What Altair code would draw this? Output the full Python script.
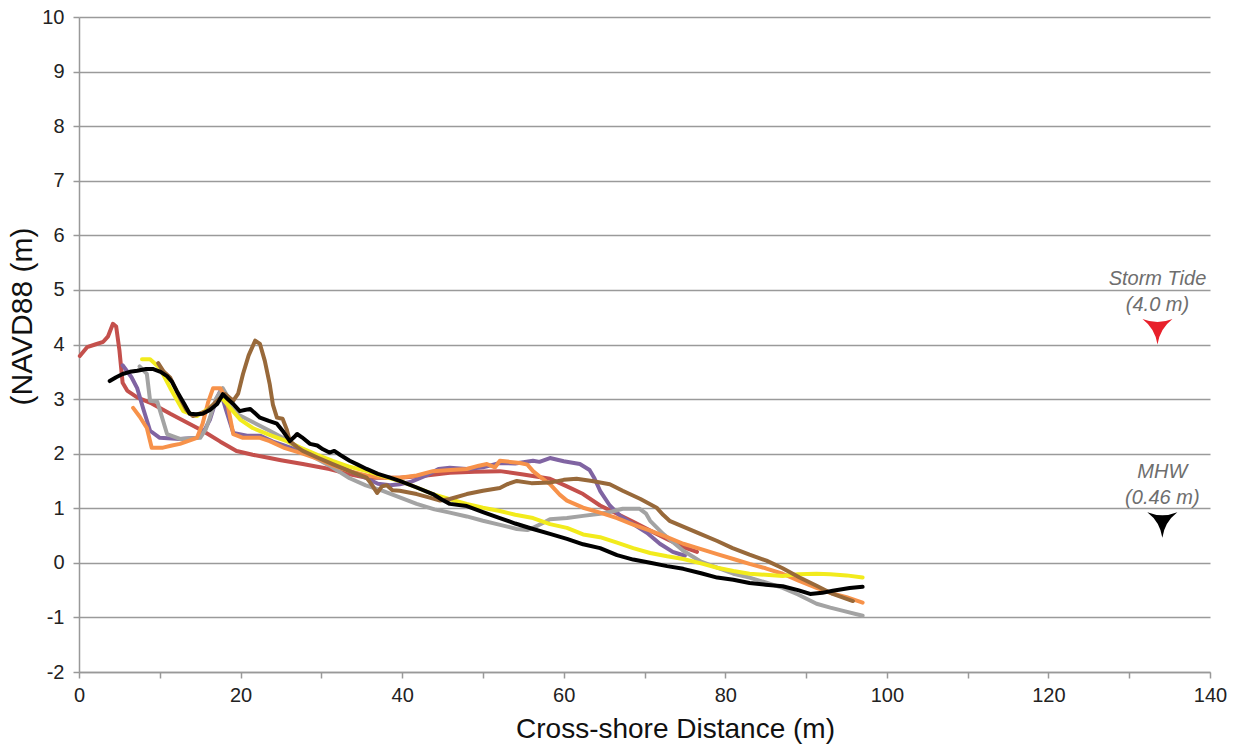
import altair as alt
import pandas as pd

# ---- data ----
red_x = [0.1, 1, 2, 3, 3.6, 4.2, 4.6, 5.0, 5.4, 6.0, 7.2, 9, 11.3, 13, 15.3, 17.5, 19.5, 21.5, 23.6, 25, 27.7, 31, 33.5, 35.6, 39.7, 43, 45.9, 49, 52.1, 55, 58.3, 60.4, 62.4, 64.5, 66.6, 68.6, 70.7, 73, 75, 76.5]
red_y = [3.79, 3.95, 4.0, 4.05, 4.15, 4.38, 4.33, 3.9, 3.3, 3.15, 3.03, 2.92, 2.73, 2.6, 2.42, 2.22, 2.05, 1.98, 1.92, 1.88, 1.81, 1.72, 1.62, 1.56, 1.56, 1.6, 1.65, 1.67, 1.68, 1.62, 1.54, 1.4, 1.26, 1.05, 0.9, 0.75, 0.59, 0.42, 0.28, 0.2]

purple_x = [5.4, 6.5, 7.2, 8, 8.8, 10, 12.5, 14.6, 15.6, 16.2, 17, 17.5, 18.2, 19.1, 20.8, 22.4, 24, 26, 28, 30, 32, 34, 35.6, 37, 38.5, 39.7, 41, 43, 44.5, 45.9, 48, 50, 52.1, 54, 56.2, 57, 58.3, 60, 62, 63.2, 63.8, 64.5, 65.7, 67, 68.6, 70.3, 71.9, 73.5, 75]
purple_y = [3.62, 3.4, 3.2, 2.8, 2.42, 2.29, 2.27, 2.29, 2.45, 2.62, 3.0, 3.15, 2.8, 2.38, 2.33, 2.33, 2.22, 2.12, 2.02, 1.9, 1.78, 1.65, 1.55, 1.45, 1.42, 1.44, 1.48, 1.6, 1.72, 1.74, 1.72, 1.75, 1.83, 1.82, 1.87, 1.85, 1.92, 1.86, 1.81, 1.7, 1.55, 1.32, 1.05, 0.86, 0.71, 0.55, 0.35, 0.2, 0.13]

gray_x = [7.5, 8.4, 8.8, 9.7, 10.9, 12.5, 15, 15.7, 16.2, 17, 17.8, 18.7, 19.5, 21.5, 23.6, 25.5, 27.7, 31, 33.5, 35.5, 37.6, 39.7, 41.8, 44, 45.9, 48, 50, 52, 54.2, 55.5, 56.2, 57.3, 58.3, 60.4, 62.4, 64.5, 66, 67.3, 69.4, 70.2, 70.7, 72.3, 74.8, 77, 79, 81, 83, 85, 87.1, 89, 91.3, 93, 94.6, 97]
gray_y = [3.6, 3.46, 2.97, 2.95, 2.36, 2.27, 2.29, 2.45, 2.66, 3.02, 3.2, 2.97, 2.73, 2.58, 2.42, 2.27, 2.05, 1.78, 1.55, 1.42, 1.32, 1.2, 1.08, 0.98, 0.92, 0.85, 0.77, 0.7, 0.62, 0.6, 0.64, 0.72, 0.8, 0.82, 0.86, 0.9, 0.94, 0.99, 0.99, 0.9, 0.77, 0.53, 0.22, 0.02, -0.09, -0.2, -0.27, -0.36, -0.46, -0.58, -0.75, -0.82, -0.88, -0.97]

orange_x = [6.7, 7.5, 8.4, 9, 10.4, 11.5, 12.5, 14.6, 15.3, 16, 16.6, 17.5, 18.3, 19.1, 20.3, 22.4, 23.6, 25.5, 27.7, 30, 31.5, 33.5, 35.6, 37.6, 39.7, 41.8, 43.8, 46, 48, 49.5, 50.5, 51.5, 52.1, 54.6, 55.5, 56.2, 57.3, 58.3, 59.5, 60.4, 62.4, 64.5, 66.6, 68.6, 70.7, 72.8, 74.8, 77, 79, 81, 83, 85, 87.1, 89, 91.3, 93, 95, 97]
orange_y = [2.84, 2.68, 2.47, 2.11, 2.11, 2.15, 2.18, 2.29, 2.55, 2.95, 3.2, 3.2, 2.97, 2.36, 2.29, 2.29, 2.23, 2.1, 2.0, 1.88, 1.78, 1.68, 1.6, 1.56, 1.56, 1.6, 1.68, 1.7, 1.72, 1.78, 1.81, 1.75, 1.87, 1.83, 1.8, 1.68, 1.55, 1.44, 1.25, 1.14, 1.01, 0.92, 0.82, 0.7, 0.59, 0.47, 0.35, 0.25, 0.16, 0.07, -0.02, -0.1, -0.2, -0.32, -0.46, -0.55, -0.63, -0.73]

yellow_x = [7.8, 8.8, 10, 11.3, 12.9, 14.6, 16.2, 17.7, 18.7, 20, 21.5, 23.5, 25.7, 27.4, 29.5, 31.4, 33.5, 35.6, 37.6, 39.7, 41.8, 43.8, 46, 48, 50, 52.1, 54, 56.2, 58.3, 60.4, 62.4, 64.5, 66.6, 68.6, 70.7, 72.8, 74.8, 77, 79, 81, 83, 85, 87.1, 89, 91.3, 93, 95, 97]
yellow_y = [3.73, 3.73, 3.57, 3.2, 2.78, 2.69, 2.84, 3.02, 2.84, 2.62, 2.47, 2.35, 2.23, 2.11, 1.98, 1.87, 1.76, 1.68, 1.59, 1.5, 1.38, 1.26, 1.16, 1.08, 1.01, 0.95, 0.88, 0.82, 0.71, 0.64, 0.52, 0.47, 0.37, 0.27, 0.18, 0.12, 0.07, -0.01, -0.09, -0.15, -0.2, -0.22, -0.24, -0.21, -0.2, -0.21, -0.23, -0.27]

brown_x = [9.8, 10.5, 11.3, 12.5, 13.3, 14.1, 15.8, 17.1, 18.1, 19.1, 19.7, 20.3, 21, 21.8, 22.4, 23, 23.6, 24, 24.5, 25.2, 25.7, 26.1, 27, 27.7, 29.5, 31.4, 33.5, 35.6, 36.3, 36.9, 37.5, 38.1, 38.8, 39.7, 41.8, 43.3, 44.7, 45.9, 48, 50, 52.1, 53, 54.2, 56, 58.3, 60, 61.6, 63.5, 65.7, 67.3, 69.5, 71.5, 72.3, 73.1, 75, 76.9, 79, 80.9, 83, 85.1, 87.1, 89.2, 91.3, 93.3, 95.8]
brown_y = [3.66, 3.5, 3.39, 3.02, 2.8, 2.69, 2.78, 2.97, 3.09, 2.97, 3.1, 3.46, 3.8, 4.07, 4.01, 3.7, 3.28, 2.9, 2.66, 2.64, 2.45, 2.23, 2.12, 2.05, 1.93, 1.81, 1.68, 1.56, 1.42, 1.28, 1.4, 1.42, 1.33, 1.32, 1.26, 1.2, 1.14, 1.17, 1.26, 1.32, 1.37, 1.44, 1.5, 1.46, 1.47, 1.52, 1.54, 1.5, 1.44, 1.32, 1.17, 1.01, 0.88, 0.77, 0.65, 0.53, 0.4, 0.27, 0.15, 0.04, -0.1, -0.27, -0.42, -0.57, -0.7]

black_x = [3.8, 4.6, 5.4, 6.3, 7.2, 8.3, 9.2, 10.1, 10.9, 11.5, 12.1, 13, 13.7, 14.5, 15.3, 16.2, 17.1, 17.8, 18.4, 19.1, 19.9, 20.5, 21.2, 21.8, 22.4, 23.5, 24.5, 25.3, 26.1, 26.6, 27, 27.6, 28.6, 29.5, 30.2, 31, 31.6, 32.3, 33.5, 34.5, 35.6, 37, 38.5, 39.7, 41.8, 43.8, 45, 45.9, 48, 50, 52.1, 54, 56.2, 58.3, 60.4, 62.4, 64.5, 66.6, 68.6, 70.7, 72.8, 74.8, 77, 79, 81, 83, 85, 87.1, 89, 90.5, 92, 93.3, 95.4, 97]
black_y = [3.33, 3.4, 3.46, 3.5, 3.52, 3.55, 3.55, 3.5, 3.42, 3.32, 3.15, 2.92, 2.73, 2.72, 2.73, 2.8, 2.91, 3.09, 3.0, 2.91, 2.78, 2.8, 2.82, 2.74, 2.66, 2.6, 2.55, 2.4, 2.23, 2.3, 2.36, 2.3, 2.18, 2.15, 2.08, 2.02, 2.05, 1.98, 1.87, 1.8, 1.72, 1.63, 1.56, 1.5, 1.38, 1.26, 1.15, 1.08, 1.04, 0.93, 0.82, 0.72, 0.62, 0.53, 0.44, 0.34, 0.27, 0.14, 0.06, 0.0, -0.06, -0.11, -0.19, -0.27, -0.31, -0.37, -0.4, -0.43, -0.5, -0.57, -0.55, -0.51, -0.46, -0.44]

series = [
    ("red", red_x, red_y, "#c4504c"),
    ("purple", purple_x, purple_y, "#8064a2"),
    ("gray", gray_x, gray_y, "#a3a3a3"),
    ("orange", orange_x, orange_y, "#f7924a"),
    ("yellow", yellow_x, yellow_y, "#f2eb1c"),
    ("brown", brown_x, brown_y, "#98693a"),
    ("black", black_x, black_y, "#000000"),
]

marker_x = [133.5, 134.1]
marker_y = [4.0, 0.46]
marker_label = ["Storm Tide\n(4.0 m)", "MHW\n(0.46 m)"]
marker_color = ["#e8202a", "#000000"]

x_ticks = list(range(0, 141, 10))
y_ticks = list(range(-2, 11))

FONT = "Liberation Sans"

x_scale = alt.Scale(domain=[0, 140], nice=False, zero=False)
y_scale = alt.Scale(domain=[-2, 10], nice=False, zero=False)

x_axis = alt.Axis(values=x_ticks, grid=False, title="Cross-shore Distance (m)",
                  labelExpr="datum.value % 20 == 0 ? ('' + datum.value) : ''",
                  labelFont=FONT, labelFontSize=20, labelColor="#222",
                  titleFont=FONT, titleFontSize=28, titleFontWeight="normal",
                  titleColor="#111", titlePadding=10, labelPadding=7, titleX=596,
                  domainColor="#999", domainWidth=1.5,
                  tickColor="#999", tickSize=6, tickWidth=1.5,
                  labelFlush=False)
y_axis = alt.Axis(values=y_ticks, grid=True, gridColor="#9a9a9a", gridWidth=1.5,
                  title="(NAVD88 (m)", labelExpr="'' + datum.value",
                  labelFont=FONT, labelFontSize=20, labelColor="#222",
                  titleFont=FONT, titleFontSize=30, titleFontWeight="normal",
                  titleColor="#111", titlePadding=4, labelPadding=9, titleY=299,
                  domainColor="#999", domainWidth=1.5,
                  tickColor="#999", tickSize=6, tickWidth=1.5,
                  labelFlush=False)

layers = []
for i, (name, xs, ys, col) in enumerate(series):
    df = pd.DataFrame({"x": xs, "y": ys, "i": range(len(xs))})
    enc_x = alt.X("x:Q", scale=x_scale, axis=x_axis) if i == 0 else alt.X("x:Q", scale=x_scale)
    enc_y = alt.Y("y:Q", scale=y_scale, axis=y_axis) if i == 0 else alt.Y("y:Q", scale=y_scale)
    layers.append(
        alt.Chart(df).mark_line(color=col, strokeWidth=4, strokeJoin="round", strokeCap="round")
        .encode(x=enc_x, y=enc_y, order="i:Q")
    )

mdf = pd.DataFrame({"x": marker_x, "y": marker_y, "label": marker_label, "c": marker_color})

arrow_path = "M -1 -0.85 Q 0 -0.45 1 -0.85 Q 0.15 -0.2 0 0.85 Q -0.15 -0.2 -1 -0.85 Z"
arrows = alt.Chart(mdf).mark_point(
    shape=arrow_path, size=900, filled=True, opacity=1, strokeWidth=0, yOffset=-12.75
).encode(
    x=alt.X("x:Q", scale=x_scale),
    y=alt.Y("y:Q", scale=y_scale),
    color=alt.Color("c:N", scale=None),
)

labels = alt.Chart(mdf).mark_text(
    font=FONT, fontSize=20, fontStyle="italic", color="#6e6e6e",
    baseline="alphabetic", align="center", dy=-60, lineBreak="\n", lineHeight=26
).encode(
    x=alt.X("x:Q", scale=x_scale),
    y=alt.Y("y:Q", scale=y_scale),
    text="label:N",
)

chart = alt.layer(*layers, arrows, labels).properties(
    width=1131, height=655,
    autosize=alt.AutoSizeParams(type="none"),
    padding={"left": 79, "top": 17, "right": 34, "bottom": 78},
    background="white",
).configure_view(stroke=None)

chart.save("out.html", embed_options={"renderer": "svg", "actions": False})
